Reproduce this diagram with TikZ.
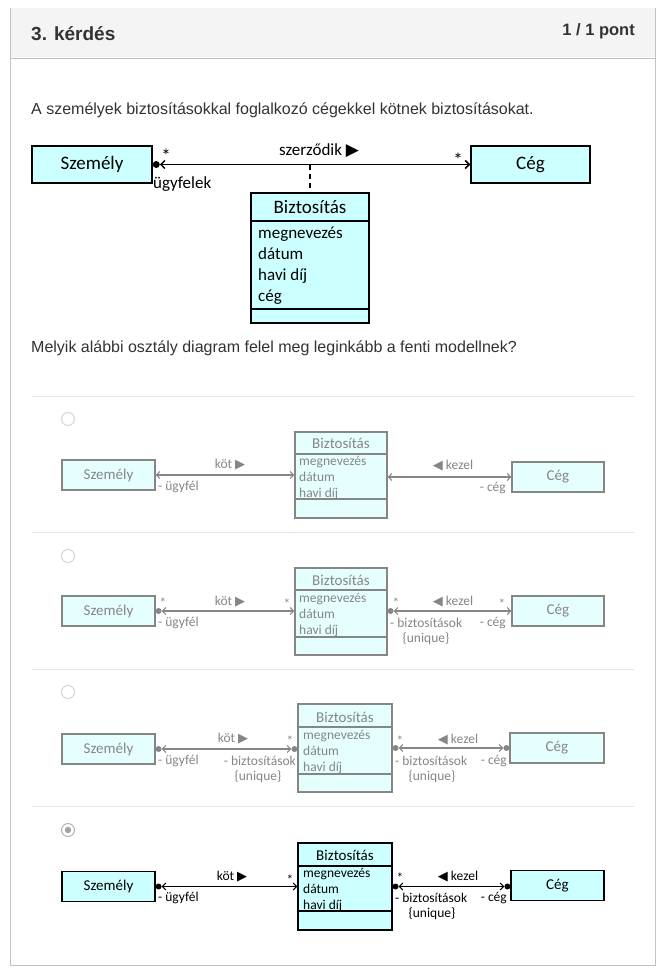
\documentclass[tikz,border=0pt]{standalone}
\usepackage{fontspec}
\setmainfont{Liberation Sans}
\newfontfamily\calibri{Carlito}
\newfontfamily\symb{DejaVu Sans}
\usetikzlibrary{arrows.meta}

\definecolor{txt}{HTML}{333333}
\definecolor{framegray}{HTML}{C2C2C2}
\definecolor{headfill}{HTML}{F4F4F4}
\definecolor{rulegray}{HTML}{E5E5E5}
\definecolor{radiogray}{HTML}{D8D8D8}
\definecolor{cyanfill}{HTML}{CCFFFF}
\definecolor{palefill}{HTML}{E5FFFF}
\definecolor{fadegray}{HTML}{868686}
\colorlet{ink}{fadegray}
\colorlet{boxfill}{palefill}

\tikzset{
  barb/.tip={Straight Barb[length=3.5pt,width=7pt]},
  bigbarb/.tip={Straight Barb[length=4pt,width=8pt]},
  bigbox/.style={draw=black, fill=cyanfill, line width=1.5pt, inner sep=0pt,
    font=\calibri\fontsize{19}{22}\selectfont},
  bigtxt/.style={inner sep=0pt, font=\calibri\fontsize{17}{20}\selectfont},
  optbox/.style={draw=ink, fill=boxfill, line width=1.1pt, inner sep=0pt, text=ink,
    font=\calibri\fontsize{15}{18}\selectfont},
  opttxt/.style={inner sep=0pt, text=ink, font=\calibri\fontsize{13.5}{15}\selectfont},
  optline/.style={draw=ink, line width=1.1pt, barb-barb},
  radio/.style={draw=radiogray, line width=1.1pt},
}
\newcommand{\rtri}{{\symb\fontsize{13}{14}\selectfont ▶}}
\newcommand{\ltri}{{\symb\fontsize{13}{14}\selectfont ◀}}

\begin{document}
\begin{tikzpicture}[x=1pt,y=-1pt]
    \useasboundingbox (0,0) rectangle (664,979);
    \fill[white] (0,0) rectangle (664,979);
    % card and header
    \draw[framegray, fill=white] (10,8) rectangle (655,965);
    \fill[headfill] (10.5,8.5) rectangle (654.5,57.5);
    \draw[framegray] (10,58) -- (655,58);
    \node[anchor=base west, inner sep=0pt, text=txt, font=\bfseries\fontsize{19}{22}\selectfont] (qnum) at (31,41) {3. kérdés};
    \node[anchor=base east, inner sep=0pt, text=txt, font=\bfseries\fontsize{16.5}{19}\selectfont] (qpts) at (635,36) {1 / 1 pont};
    \node[anchor=base west, inner sep=0pt, text=txt, font=\fontsize{16}{19}\selectfont] (qtext) at (31,115) {A személyek biztosításokkal foglalkozó cégekkel kötnek biztosításokat.};

    % model
    \node[bigbox, minimum width=120, minimum height=37] (szem0) at (92,164.5) {Személy};
    \node[bigbox, minimum width=119, minimum height=37] (ceg0) at (530.5,164.5) {Cég};
    \node[bigbox, minimum width=118, minimum height=130] (bizt0) at (310,258) {};
    \draw[line width=1.5pt] (bizt0.west |- 0,221) -- (bizt0.east |- 0,221);
    \draw[line width=1.5pt] (bizt0.west |- 0,309) -- (bizt0.east |- 0,309);
    \node[bigbox, draw=none, fill=none] (bizt0t) at (310,207) {Biztosítás};
    \node[bigtxt, anchor=base west] (bizt0a) at (258,238) {megnevezés};
    \node[bigtxt, anchor=base west] (bizt0b) at (258,259) {dátum};
    \node[bigtxt, anchor=base west] (bizt0c) at (258,280) {havi díj};
    \node[bigtxt, anchor=base west] (bizt0d) at (258,301) {cég};
    \fill ([xshift=3.5pt]szem0.east) circle (3.5);
    \draw[line width=1.5pt, bigbarb-bigbarb] ([xshift=7pt]szem0.east) -- (ceg0.west);
    \draw[line width=1.5pt, dash pattern=on 5pt off 4pt] (bizt0.north |- szem0.east) -- (bizt0.north);
    \node[bigtxt, font=\calibri\fontsize{19}{20}\selectfont] (m0a) at (166,156) {*};
    \node[bigtxt, font=\calibri\fontsize{19}{20}\selectfont] (m0b) at (458,160) {*};
    \node[bigtxt] (r0) at (319,151) {szerződik {\symb\fontsize{17}{18}\selectfont ▶}};
    \node[bigtxt, anchor=west] (u0) at (153,184) {ügyfelek};

    \node[anchor=base west, inner sep=0pt, text=txt, font=\fontsize{16}{19}\selectfont] (qask) at (31,352) {Melyik alábbi osztály diagram felel meg leginkább a fenti modellnek?};

    % answers
    \foreach \y in {396,532,669,806} \draw[rulegray] (32,\y) -- (634,\y);
    \foreach \y in {419,556,692} \draw[radio] (68,\y) circle (6.5);
    \draw[radio, draw=radiogray!85!black] (68,830) circle (6.5);
    \fill[radiogray!75!black] (68,830) circle (3.2);

    % option 1
    \node[optbox, minimum width=93, minimum height=30] (szem1) at (108.5,475) {Személy};
    \node[optbox, minimum width=92, minimum height=86] (bizt1) at (341,475) {};
    \node[optbox, minimum width=92, minimum height=30] (ceg1) at (558,477) {Cég};
    \draw[ink, line width=1.1pt] (bizt1.west |- 0,454) -- (bizt1.east |- 0,454);
    \draw[ink, line width=1.1pt] (bizt1.west |- 0,499) -- (bizt1.east |- 0,499);
    \node[optbox, draw=none, fill=none] (bizt1t) at (341,443) {Biztosítás};
    \node[opttxt, anchor=base west] (bizt1a) at (299,465) {megnevezés};
    \node[opttxt, anchor=base west] (bizt1b) at (299,481) {dátum};
    \node[opttxt, anchor=base west] (bizt1c) at (299,497) {havi díj};
    \draw[optline] (szem1.east) -- (szem1.east -| bizt1.west);
    \draw[optline] (bizt1.east |- ceg1.west) -- (ceg1.west);
    \node[opttxt] (k1) at (230,465) {köt \rtri};
    \node[opttxt] (z1) at (453,466) {\ltri\ kezel};
    \node[opttxt, anchor=west] (u1) at (158,487) {- ügyfél};
    \node[opttxt, anchor=east] (c1) at (506,488) {- cég};

    % option 2
    \node[optbox, minimum width=93, minimum height=30] (szem2) at (108.5,611) {Személy};
    \node[optbox, minimum width=92, minimum height=87] (bizt2) at (341,611.5) {};
    \node[optbox, minimum width=92, minimum height=30] (ceg2) at (558,611) {Cég};
    \draw[ink, line width=1.1pt] (bizt2.west |- 0,590) -- (bizt2.east |- 0,590);
    \draw[ink, line width=1.1pt] (bizt2.west |- 0,637) -- (bizt2.east |- 0,637);
    \node[optbox, draw=none, fill=none] (bizt2t) at (341,580) {Biztosítás};
    \node[opttxt, anchor=base west] (bizt2a) at (299,602) {megnevezés};
    \node[opttxt, anchor=base west] (bizt2b) at (299,618) {dátum};
    \node[opttxt, anchor=base west] (bizt2c) at (299,634) {havi díj};
    \fill[ink] ([xshift=3pt]szem2.east) circle (3);
    \draw[optline] ([xshift=6pt]szem2.east) -- (szem2.east -| bizt2.west);
    \fill[ink] ([xshift=3pt]bizt2.east |- ceg2.west) circle (3);
    \draw[optline] ([xshift=6pt]bizt2.east |- ceg2.west) -- (ceg2.west);
    \node[opttxt] (m2a) at (163,603) {*};
    \node[opttxt] (m2b) at (287,604) {*};
    \node[opttxt] (m2c) at (396,603) {*};
    \node[opttxt] (m2d) at (502,604) {*};
    \node[opttxt] (k2) at (230,602) {köt \rtri};
    \node[opttxt] (z2) at (453,602) {\ltri\ kezel};
    \node[opttxt, anchor=west] (u2) at (158,623) {- ügyfél};
    \node[opttxt, anchor=west] (b2) at (390,623) {- biztosítások};
    \node[opttxt] (q2) at (426,639) {\{unique\}};
    \node[opttxt, anchor=east] (c2) at (506,623) {- cég};

    % option 3
    \node[optbox, minimum width=93, minimum height=30] (szem3) at (108.5,749) {Személy};
    \node[optbox, minimum width=94, minimum height=88] (bizt3) at (345,748) {};
    \node[optbox, minimum width=94, minimum height=30] (ceg3) at (557,748) {Cég};
    \draw[ink, line width=1.1pt] (bizt3.west |- 0,727) -- (bizt3.east |- 0,727);
    \draw[ink, line width=1.1pt] (bizt3.west |- 0,774) -- (bizt3.east |- 0,774);
    \node[optbox, draw=none, fill=none] (bizt3t) at (345,717) {Biztosítás};
    \node[opttxt, anchor=base west] (bizt3a) at (303,739) {megnevezés};
    \node[opttxt, anchor=base west] (bizt3b) at (303,755) {dátum};
    \node[opttxt, anchor=base west] (bizt3c) at (303,771) {havi díj};
    \fill[ink] ([xshift=3pt]szem3.east) circle (3);
    \fill[ink] ([xshift=-3pt]szem3.east -| bizt3.west) circle (3);
    \draw[optline] ([xshift=6pt]szem3.east) -- ([xshift=-6pt]szem3.east -| bizt3.west);
    \fill[ink] ([xshift=3pt]bizt3.east |- ceg3.west) circle (3);
    \fill[ink] ([xshift=-3pt]ceg3.west) circle (3);
    \draw[optline] ([xshift=6pt]bizt3.east |- ceg3.west) -- ([xshift=-6pt]ceg3.west);
    \node[opttxt] (m3b) at (290,741) {*};
    \node[opttxt] (m3c) at (400,741) {*};
    \node[opttxt] (k3) at (233,739) {köt \rtri};
    \node[opttxt] (z3) at (458,740) {\ltri\ kezel};
    \node[opttxt, anchor=west] (u3) at (158,761) {- ügyfél};
    \node[opttxt, anchor=east] (b3a) at (296,761) {- biztosítások};
    \node[opttxt] (q3a) at (258,777) {\{unique\}};
    \node[opttxt, anchor=west] (b3b) at (395,761) {- biztosítások};
    \node[opttxt] (q3b) at (432,777) {\{unique\}};
    \node[opttxt, anchor=east] (c3) at (507,761) {- cég};

    % option 4, the chosen one
    \begin{scope}
    \colorlet{ink}{black}
    \colorlet{boxfill}{cyanfill}
    \node[optbox, minimum width=93, minimum height=30] (szem4) at (108.5,886.5) {Személy};
    \node[optbox, minimum width=94, minimum height=87] (bizt4) at (345,886.5) {};
    \node[optbox, minimum width=93, minimum height=30] (ceg4) at (557.5,885.5) {Cég};
    \draw[ink, line width=1.1pt] (bizt4.west |- 0,866) -- (bizt4.east |- 0,866);
    \draw[ink, line width=1.1pt] (bizt4.west |- 0,911) -- (bizt4.east |- 0,911);
    \node[optbox, draw=none, fill=none] (bizt4t) at (345,855) {Biztosítás};
    \node[opttxt, anchor=base west] (bizt4a) at (303,877) {megnevezés};
    \node[opttxt, anchor=base west] (bizt4b) at (303,893) {dátum};
    \node[opttxt, anchor=base west] (bizt4c) at (303,909) {havi díj};
    \fill[ink] ([xshift=3pt]szem4.east) circle (3);
    \draw[optline] ([xshift=6pt]szem4.east) -- (szem4.east -| bizt4.west);
    \fill[ink] ([xshift=3pt]bizt4.east |- szem4.east) circle (3);
    \fill[ink] ([xshift=-3pt]bizt4.east -| ceg4.west) circle (3);
    \draw[optline] ([xshift=6pt]bizt4.east |- szem4.east) -- ([xshift=-6pt]szem4.east -| ceg4.west);
    \node[opttxt] (m4b) at (290,880) {*};
    \node[opttxt] (m4c) at (400,878) {*};
    \node[opttxt] (k4) at (232,877) {köt \rtri};
    \node[opttxt] (z4) at (458,877) {\ltri\ kezel};
    \node[opttxt, anchor=west] (u4) at (158,898) {- ügyfél};
    \node[opttxt, anchor=west] (b4) at (395,898) {- biztosítások};
    \node[opttxt] (q4) at (432,914) {\{unique\}};
    \node[opttxt, anchor=east] (c4) at (507,898) {- cég};
    \end{scope}
\end{tikzpicture}
\end{document}
